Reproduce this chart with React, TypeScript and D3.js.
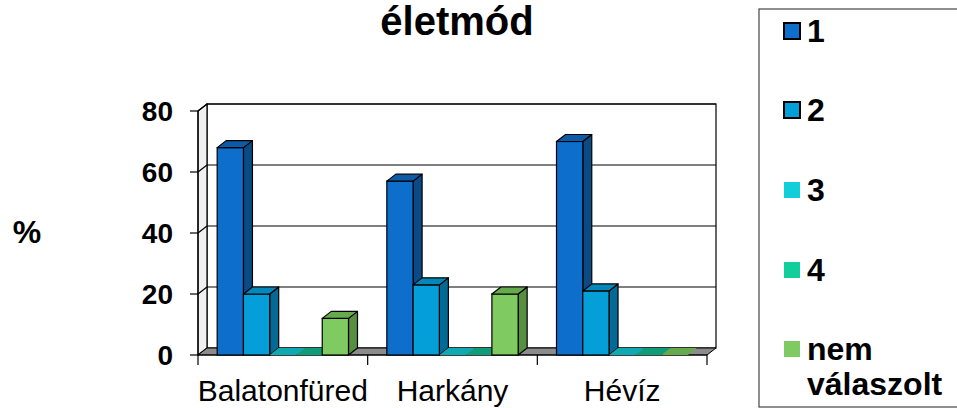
import React from "react";
import * as d3 from "d3";

const categories = ["Balatonfüred", "Harkány", "Hévíz"];
const seriesNames = ["1", "2", "3", "4", "nem válaszolt"];
const series1 = [68, 57, 70];
const series2 = [20, 23, 21];
const series3 = [0, 0, 0];
const series4 = [0, 0, 0];
const series5 = [12, 20, 0];
const yTicks = [0, 20, 40, 60, 80];

const allSeries = [series1, series2, series3, series4, series5];
const fronts = ["#0d6ecb", "#049fd9", "#10cfd9", "#10cf9b", "#7fcb62"];
const tops = ["#0b5ba8", "#0388bb", "#0ea9b3", "#0e9d78", "#66aa4e"];
const sides = ["#0a4a85", "#036a96", "#0a8a90", "#0a8060", "#558f3f"];
const legendStroke = [true, true, false, false, false];

const W = 957, H = 408;
const FONT = "'Liberation Sans', Arial, sans-serif";

export default function App() {
  const x0 = 198, x1 = 707;
  const yBase = 355, yTop = 111;
  const dx = 9, dy = 7;
  const y = d3.scaleLinear().domain([0, 80]).range([yBase, yTop]);
  const xBand = d3.scaleBand<string>().domain(categories).range([x0, x1]).paddingInner(0).paddingOuter(0);
  const inner = d3.scaleBand<number>().domain(d3.range(5)).range([0, xBand.bandwidth()]).paddingOuter(0.73).paddingInner(0);
  const bw = inner.bandwidth();

  const bars: React.ReactNode[] = [];
  categories.forEach((c, ci) => {
    allSeries.forEach((s, si) => {
      const v = s[ci];
      const bx = (xBand(c) as number) + (inner(si) as number);
      const yv = y(v);
      const h = yBase - yv;
      const topPts = `${bx},${yv} ${bx + dx},${yv - dy} ${bx + bw + dx},${yv - dy} ${bx + bw},${yv}`;
      const sidePts = `${bx + bw},${yv} ${bx + bw + dx},${yv - dy} ${bx + bw + dx},${yBase - dy} ${bx + bw},${yBase}`;
      bars.push(
        <g key={`${ci}-${si}`}>
          {h > 0 && <polygon points={sidePts} fill={sides[si]} stroke="#000" strokeWidth={1.2} strokeLinejoin="round" />}
          {h > 0 && <rect x={bx} y={yv} width={bw} height={h} fill={fronts[si]} stroke="#000" strokeWidth={1.2} />}
          <polygon points={topPts} fill={tops[si]} stroke={h > 0 ? "#000" : "none"} strokeWidth={1.2} strokeLinejoin="round" />
        </g>
      );
    });
  });

  const legendY = [31, 110, 190, 270, 349];

  return (
    <svg width={W} height={H} style={{ position: "absolute", left: 0, top: 0, background: "#fff" }}>
      <text x={457} y={35} textAnchor="middle" fontFamily={FONT} fontWeight="bold" fontSize={40}>életmód</text>

      {/* back wall */}
      <rect x={x0 + dx} y={yTop - dy} width={x1 - x0} height={yBase - yTop} fill="#fff" stroke="#000" strokeWidth={1.2} />
      {/* left wall */}
      <polygon points={`${x0},${yTop} ${x0 + dx},${yTop - dy} ${x0 + dx},${yBase - dy} ${x0},${yBase}`} fill="#f0f0f0" stroke="#000" strokeWidth={1.2} />
      {/* gridlines */}
      {yTicks.filter(t => t > 0).map(t => (
        <g key={t}>
          <line x1={x0 + dx} x2={x1 + dx} y1={y(t) - dy} y2={y(t) - dy} stroke="#000" strokeWidth={1.2} />
          <line x1={x0} x2={x0 + dx} y1={y(t)} y2={y(t) - dy} stroke="#000" strokeWidth={1.2} />
        </g>
      ))}
      {/* floor */}
      <polygon points={`${x0},${yBase} ${x0 + dx},${yBase - dy} ${x1 + dx},${yBase - dy} ${x1},${yBase}`} fill="#8c8c8c" stroke="#000" strokeWidth={1} />

      {/* y axis */}
      <line x1={x0} x2={x0} y1={yTop} y2={yBase} stroke="#000" strokeWidth={1.2} />
      {yTicks.map(t => (
        <g key={t}>
          <line x1={x0 - 8} x2={x0} y1={y(t)} y2={y(t)} stroke="#000" strokeWidth={1.2} />
          <text x={173} y={y(t) + 10} textAnchor="end" fontFamily={FONT} fontWeight="bold" fontSize={28}>{t}</text>
        </g>
      ))}
      {/* x axis */}
      <line x1={x0} x2={x1} y1={yBase} y2={yBase} stroke="#000" strokeWidth={1.2} />
      {[...categories.map(c => xBand(c) as number), x1].map((xx, i) => (
        <line key={i} x1={xx} x2={xx} y1={yBase} y2={yBase + 10} stroke="#000" strokeWidth={1.2} />
      ))}
      {categories.map(c => (
        <text key={c} x={(xBand(c) as number) + xBand.bandwidth() / 2} y={401} textAnchor="middle" fontFamily={FONT} fontSize={30}>{c}</text>
      ))}

      {bars}

      <text x={27} y={243} textAnchor="middle" fontFamily={FONT} fontWeight="bold" fontSize={32}>%</text>

      {/* legend */}
      <rect x={759} y={9} width={210} height={398} fill="#fff" stroke="#444" strokeWidth={1.2} />
      {seriesNames.map((n, i) => (
        <g key={n}>
          <rect x={784} y={legendY[i] - 8} width={16} height={16} fill={fronts[i]} stroke={legendStroke[i] ? "#000" : "none"} strokeWidth={2} />
          {n === "nem válaszolt" ? (
            <text fontFamily={FONT} fontWeight="bold" fontSize={32}>
              <tspan x={807} y={legendY[i] + 11}>nem</tspan>
              <tspan x={807} y={legendY[i] + 46}>válaszolt</tspan>
            </text>
          ) : (
            <text x={807} y={legendY[i] + 11} fontFamily={FONT} fontWeight="bold" fontSize={32}>{n}</text>
          )}
        </g>
      ))}
    </svg>
  );
}
